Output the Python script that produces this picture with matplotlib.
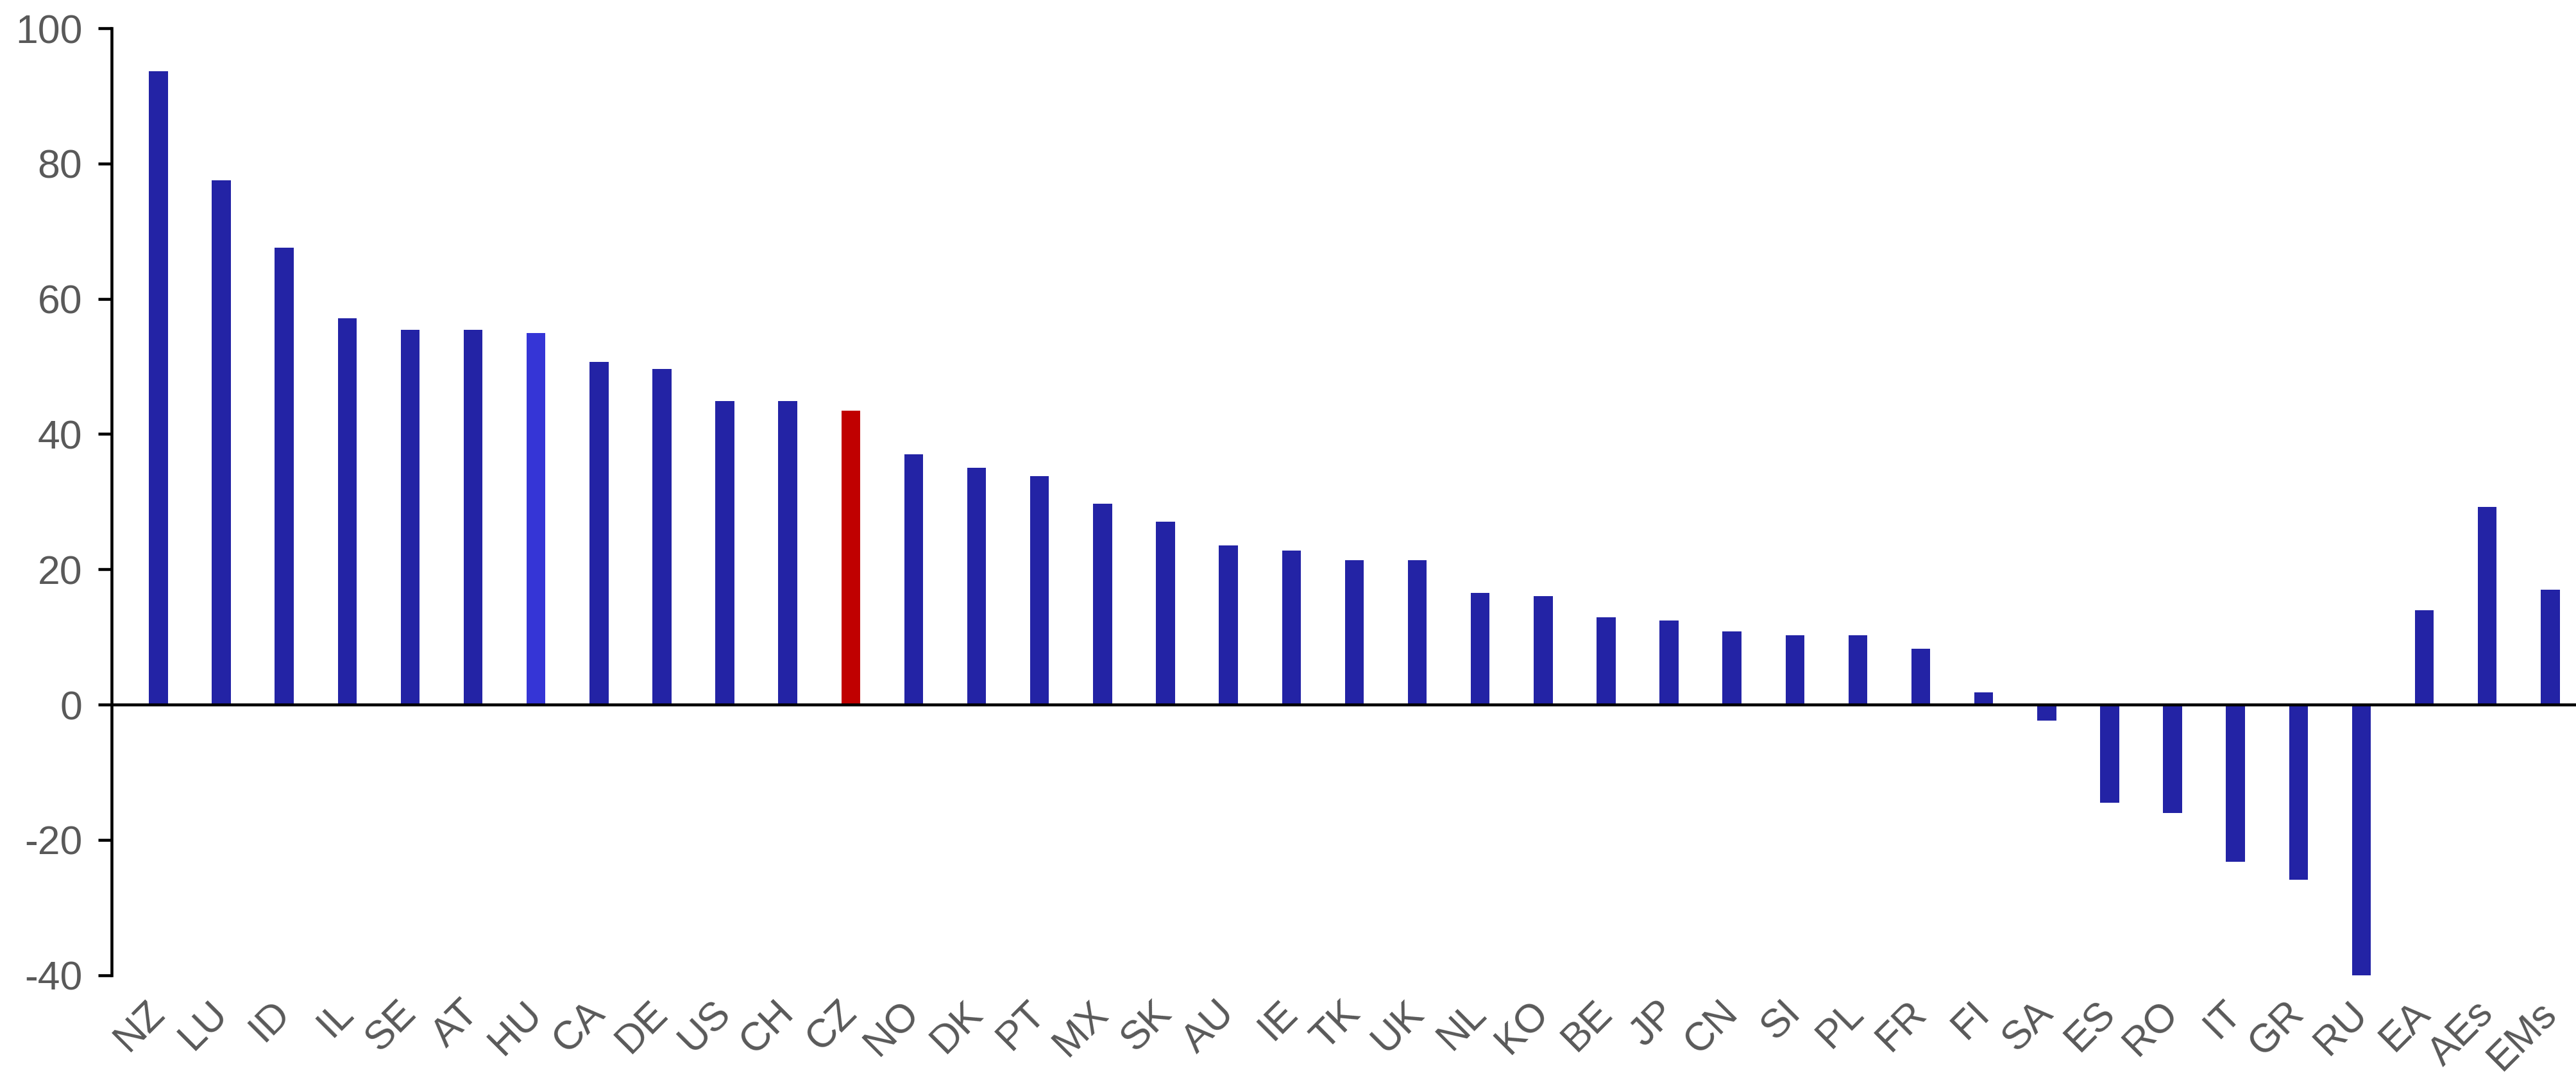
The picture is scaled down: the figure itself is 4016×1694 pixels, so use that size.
import matplotlib.pyplot as plt
import numpy as np

plt.rcParams['font.family'] = ['Liberation Sans', 'DejaVu Sans']
plt.rcParams['axes.unicode_minus'] = False

countries = ['NZ', 'LU', 'ID', 'IL', 'SE', 'AT', 'HU', 'CA', 'DE', 'US', 'CH',
             'CZ', 'NO', 'DK', 'PT', 'MX', 'SK', 'AU', 'IE', 'TK', 'UK', 'NL',
             'KO', 'BE', 'JP', 'CN', 'SI', 'PL', 'FR', 'FI', 'SA', 'ES', 'RO',
             'IT', 'GR', 'RU', 'EA', 'AEs', 'EMs']
values = [93.6, 77.5, 67.5, 57.1, 55.4, 55.4, 54.9, 50.7, 49.6, 44.9, 44.9,
          43.4, 37.0, 35.0, 33.8, 29.7, 27.0, 23.5, 22.8, 21.3, 21.3, 16.5,
          16.0, 12.9, 12.4, 10.8, 10.2, 10.2, 8.2, 1.8, -2.4, -14.5, -16.0,
          -23.3, -25.9, -40.1, 13.9, 29.2, 17.0]

base_col = '#2323a5'
colors = [base_col] * len(countries)
colors[countries.index('HU')] = '#3535d6'
colors[countries.index('CZ')] = '#c00000'

fig = plt.figure(figsize=(13.387, 5.647), dpi=300)
ax = fig.add_axes([0.0434, 0.103, 0.9566, 0.871])

x = np.arange(len(countries))
ax.bar(x, values, width=0.3, color=colors, zorder=2)
ax.axhline(0, color='black', linewidth=1.1, zorder=3)

ax.set_ylim(-40, 100)
ax.set_yticks(np.arange(-40, 101, 20))
ax.set_xlim(-0.74, len(countries) - 1 + 0.41)
ax.set_xticks(x)
ax.set_xticklabels(countries, rotation=45, ha='right', va='center',
                   rotation_mode='anchor')

for s in ['top', 'right', 'bottom']:
    ax.spines[s].set_visible(False)
ax.spines['left'].set_linewidth(1.1)
ax.tick_params(axis='y', direction='out', length=5, width=1.1,
               labelsize=15, labelcolor='#595959', pad=6)
ax.tick_params(axis='x', length=0, labelsize=15, labelcolor='#595959', pad=12)

fig.savefig('out.png', dpi=300)
